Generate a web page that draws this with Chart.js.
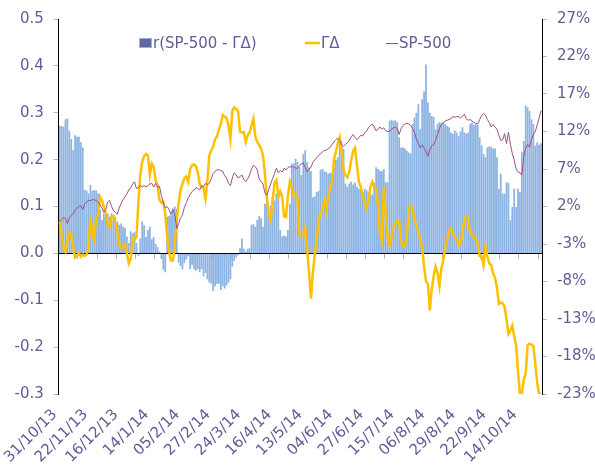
<!DOCTYPE html>
<html>
<head>
<meta charset="utf-8">
<script src="https://cdn.jsdelivr.net/npm/chart.js@4.4.1/dist/chart.umd.min.js"></script>
<style>
  html, body { margin: 0; padding: 0; background: #ffffff; }
</style>
</head>
<body>
<canvas id="corrChart" width="595" height="468"></canvas>
<script>
// r(SP-500 - ΓΔ) rolling correlation (bars, left axis) with the two indices (lines, right axis, %)
var DATE_TICKS = ['31/10/13', '22/11/13', '16/12/13', '14/1/14', '05/2/14', '27/2/14', '24/3/14', '16/4/14',
  '13/5/14', '04/6/14', '27/6/14', '15/7/14', '06/8/14', '29/8/14', '22/9/14', '14/10/14'];
var LABEL_EVERY = 16;
var TICK_EVERY = 10;

var CORR = [
  0.272, 0.272, 0.270, 0.286, 0.288, 0.262, 0.244, 0.220, 0.252, 0.249,
  0.249, 0.237, 0.226, 0.135, 0.134, 0.128, 0.146, 0.133, 0.135, 0.134,
  0.128, 0.093, 0.071, 0.085, 0.078, 0.085, 0.078, 0.085, 0.071, 0.078,
  0.068, 0.061, 0.064, 0.057, 0.054, 0.036, 0.022, 0.047, 0.043, 0.045,
  0.022, -0.005, 0.032, 0.068, 0.060, 0.035, 0.050, 0.057, 0.030, 0.035,
  0.020, 0.013, 0.004, -0.012, -0.035, -0.040, 0.078, 0.080, 0.085, 0.096,
  0.100, 0.095, -0.020, -0.027, -0.034, -0.020, -0.013, -0.006, -0.034, -0.024,
  -0.034, -0.037, -0.034, -0.040, -0.034, -0.049, -0.042, -0.055, -0.062, -0.065,
  -0.080, -0.070, -0.065, -0.065, -0.078, -0.070, -0.075, -0.068, -0.062, -0.055,
  -0.028, -0.016, -0.009, -0.004, 0.011, 0.032, 0.010, 0.004, 0.010, 0.011,
  0.061, 0.062, 0.057, 0.071, 0.080, 0.075, 0.057, 0.106, 0.128, 0.085,
  0.102, 0.120, 0.113, 0.128, 0.135, 0.050, 0.036, 0.038, 0.036, 0.050,
  0.106, 0.191, 0.192, 0.202, 0.195, 0.184, 0.167, 0.212, 0.220, 0.195,
  0.184, 0.175, 0.120, 0.122, 0.131, 0.133, 0.178, 0.180, 0.175, 0.173,
  0.170, 0.172, 0.170, 0.184, 0.200, 0.205, 0.244, 0.240, 0.223, 0.149,
  0.142, 0.149, 0.153, 0.147, 0.151, 0.142, 0.138, 0.135, 0.131, 0.138,
  0.135, 0.131, 0.124, 0.126, 0.150, 0.184, 0.180, 0.177, 0.175, 0.180,
  0.152, 0.152, 0.283, 0.285, 0.283, 0.284, 0.280, 0.248, 0.226, 0.226,
  0.224, 0.219, 0.215, 0.213, 0.276, 0.290, 0.300, 0.318, 0.265, 0.329,
  0.346, 0.403, 0.322, 0.300, 0.293, 0.291, 0.265, 0.276, 0.280, 0.278,
  0.280, 0.276, 0.272, 0.269, 0.258, 0.255, 0.262, 0.258, 0.250, 0.260,
  0.269, 0.258, 0.256, 0.258, 0.276, 0.279, 0.274, 0.276, 0.274, 0.248,
  0.230, 0.212, 0.205, 0.226, 0.228, 0.227, 0.224, 0.224, 0.205, 0.138,
  0.170, 0.128, 0.127, 0.152, 0.150, 0.071, 0.099, 0.138, 0.099, 0.138,
  0.131, 0.216, 0.240, 0.315, 0.312, 0.304, 0.286, 0.276, 0.230, 0.237,
  0.232, 0.235
];

// ΓΔ, % (right axis)
var GD = [
  0.0, -1.8, -3.5, -4.0, -2.5, -1.5, -1.8, -3.5, -4.8, -4.6,
  -4.2, -4.7, -4.4, -4.6, -4.4, -3.5, 0.7, -1.6, -2.4, 0.5,
  0.8, 3.3, 2.8, 2.0, 1.1, -0.4, -0.7, 0.6, 0.7, -0.2,
  -1.1, -3.1, -3.5, -3.4, -3.0, -4.2, -5.6, -5.0, -2.2, -2.4,
  -2.0, 2.5, 6.2, 8.0, 8.7, 9.0, 8.8, 6.2, 7.7, 7.3,
  5.5, 4.8, 2.9, 2.5, 2.6, 1.1, -2.0, -4.0, -5.2, -5.2,
  -3.0, 0.0, 2.5, 4.2, 5.0, 5.8, 6.0, 5.3, 7.0, 7.5,
  7.6, 7.4, 6.6, 5.0, 4.6, 4.4, 3.0, 5.5, 8.8, 9.5,
  10.0, 11.0, 11.3, 12.3, 13.0, 14.2, 14.0, 13.8, 12.8, 11.0,
  14.8, 15.2, 15.0, 14.7, 12.0, 11.9, 11.9, 10.6, 11.5, 11.9,
  12.8, 13.7, 11.3, 10.6, 10.2, 9.7, 8.8, 6.4, 3.2, 1.1,
  0.2, 2.8, 5.1, 5.5, 3.3, 4.0, 3.3, 0.7, 0.6, 3.5,
  5.3, 4.5, 3.4, 3.6, 3.0, -1.8, -2.0, -2.0, -0.9, -3.7,
  -6.8, -10.3, -6.8, -4.4, -2.5, 0.0, 1.2, 1.6, 2.7, 1.5,
  3.5, 4.5, 5.3, 8.2, 9.3, 10.4, 11.2, 9.3, 6.9, 6.2,
  5.9, 6.6, 8.2, 9.4, 9.8, 7.5, 5.3, 4.6, 3.3, 2.5,
  1.8, 2.8, 4.6, 5.3, 4.5, 4.4, 2.0, -1.5, -2.5, 4.5,
  0.8, -2.0, -3.1, -2.2, -0.8, -0.3, 0.1, 0.0, -2.6, -3.3,
  -3.3, -2.0, 1.5, 2.1, 1.6, 0.3, -0.6, -1.5, -2.4, -3.5,
  -6.0, -8.0, -8.3, -11.9, -9.0, -7.3, -6.0, -6.8, -8.6, -6.3,
  -5.2, -3.5, -2.5, -1.2, -0.9, -1.6, -2.0, -2.3, -3.2, -3.0,
  -1.5, 0.3, 0.7, 0.6, -1.5, -1.8, -2.1, -2.4, -2.9, -4.6,
  -4.6, -5.8, -3.4, -4.6, -5.6, -5.8, -6.9, -7.5, -8.8, -11.0,
  -10.8, -10.9, -11.4, -13.0, -15.0, -14.6, -13.9, -15.3, -16.5, -20.0,
  -23.0, -23.0, -21.0, -20.3, -16.5, -16.3, -16.4, -16.6, -19.0, -21.5,
  -23.0, -23.0
];

// SP-500, % (right axis)
var SPX = [
  0.0, 0.3, 0.5, 0.4, -0.3, 0.5, 0.8, 1.1, 1.5, 1.8,
  2.0, 2.1, 1.6, 2.3, 2.6, 2.8, 2.8, 2.9, 2.9, 2.8,
  2.6, 2.2, 1.8, 1.2, 1.6, 2.6, 2.8, 2.0, 1.5, 1.2,
  1.0, 1.8, 2.4, 2.9, 3.3, 3.7, 4.2, 4.5, 5.0, 5.3,
  4.4, 4.5, 4.8, 4.6, 4.8, 4.6, 4.8, 5.0, 5.1, 4.6,
  5.1, 4.6, 4.7, 3.5, 2.5, 1.8, 2.0, 1.6, 1.0, 1.6,
  1.0, -0.9, -0.3, 0.5, 0.9, 1.9, 2.5, 3.2, 3.6, 4.0,
  4.2, 4.5, 4.4, 4.2, 4.8, 4.6, 5.1, 4.9, 5.1, 5.7,
  6.4, 6.7, 6.9, 6.9, 6.8, 6.7, 6.1, 5.8, 5.1, 4.8,
  5.8, 6.5, 6.2, 5.8, 6.0, 6.2, 5.6, 5.3, 5.7, 6.2,
  7.0, 7.5, 7.3, 6.9, 5.7, 5.3, 5.0, 3.8, 3.5, 4.3,
  5.0, 5.7, 6.4, 7.1, 6.5, 6.8, 6.6, 7.1, 6.9, 7.2,
  7.3, 7.3, 7.3, 7.1, 7.1, 7.4, 7.7, 7.8, 7.2, 6.6,
  7.0, 7.2, 7.9, 8.2, 8.5, 8.8, 9.0, 9.3, 9.5, 9.5,
  9.7, 9.9, 10.3, 10.6, 10.9, 11.1, 10.8, 10.2, 10.0, 10.3,
  10.5, 10.8, 11.3, 11.6, 11.2, 10.9, 11.2, 11.5, 11.4, 11.8,
  12.1, 12.5, 12.8, 13.0, 12.6, 12.1, 12.3, 12.6, 12.3, 12.5,
  12.1, 12.0, 12.0, 12.3, 12.5, 12.6, 12.4, 11.6, 12.4, 12.8,
  13.0, 13.1, 13.0, 12.8, 12.4, 11.9, 11.0, 10.4, 9.8, 10.2,
  9.8, 9.3, 8.7, 9.6, 10.1, 10.2, 10.8, 11.6, 12.4, 12.9,
  13.2, 13.4, 13.5, 13.6, 13.7, 14.0, 13.9, 14.0, 14.0, 13.8,
  14.0, 14.3, 13.7, 13.5, 13.6, 13.4, 13.2, 13.1, 13.0, 13.6,
  14.1, 14.4, 14.2, 13.6, 13.2, 12.6, 12.9, 12.6, 12.3, 11.5,
  10.8, 10.9, 11.7, 10.4, 11.9, 10.3, 9.1, 8.2, 7.0, 6.6,
  6.5, 6.2, 8.7, 9.8, 10.3, 9.9, 11.0, 11.6, 12.0, 12.9,
  13.8, 14.8
];

var TEXT = '#5E5E96';
var BAR = '#8DB4E2';
var GOLD = '#FFC000';
var PLUM = '#A0507F';
var TICK = '#B4B4B4';

var labels = CORR.map(function (v, i) {
  return i % LABEL_EVERY === 0 ? (DATE_TICKS[i / LABEL_EVERY] || '') : '';
});

Chart.defaults.font.family = "'DejaVu Sans', sans-serif";
Chart.defaults.font.size = 15;
Chart.defaults.color = TEXT;
Chart.defaults.animation = false;

// legend drawn inside the plot, as in the original
var insideLegend = {
  id: 'insideLegend',
  afterDraw: function (chart) {
    var ctx = chart.ctx;
    var y = 44;
    ctx.save();
    ctx.font = "15px 'DejaVu Sans', sans-serif";
    ctx.textBaseline = 'middle';
    ctx.textAlign = 'left';

    ctx.fillStyle = '#6466A2';
    ctx.fillRect(139, 38, 13, 10);
    ctx.strokeStyle = BAR;
    ctx.lineWidth = 1;
    ctx.strokeRect(139.5, 38.5, 12, 9);
    ctx.fillStyle = TEXT;
    ctx.fillText(chart.data.datasets[0].label, 153, y);

    ctx.strokeStyle = GOLD;
    ctx.lineWidth = 2.5;
    ctx.beginPath(); ctx.moveTo(305, 43); ctx.lineTo(320, 43); ctx.stroke();
    ctx.fillText(chart.data.datasets[1].label, 321, y);

    ctx.strokeStyle = PLUM;
    ctx.lineWidth = 1;
    ctx.beginPath(); ctx.moveTo(386, 43.5); ctx.lineTo(398, 43.5); ctx.stroke();
    ctx.fillText(chart.data.datasets[2].label, 399, y);
    ctx.restore();
  }
};

new Chart(document.getElementById('corrChart'), {
  type: 'bar',
  data: {
    labels: labels,
    datasets: [
      { type: 'bar', label: 'r(SP-500 - ΓΔ)', data: CORR, backgroundColor: BAR,
        barPercentage: 0.93, categoryPercentage: 1, yAxisID: 'y', order: 3 },
      { type: 'line', label: 'ΓΔ', data: GD, borderColor: GOLD, borderWidth: 2.5,
        pointRadius: 0, tension: 0, yAxisID: 'y1', order: 2 },
      { type: 'line', label: 'SP-500', data: SPX, borderColor: PLUM, borderWidth: 1,
        pointRadius: 0, tension: 0, yAxisID: 'y1', order: 1 }
    ]
  },
  options: {
    responsive: false,
    layout: { padding: { top: 16, right: 0, bottom: 0, left: 0 } },
    plugins: { legend: { display: false }, tooltip: { enabled: false } },
    scales: {
      x: {
        type: 'category',
        position: 'bottom',
        offset: true,
        grid: { display: false, drawTicks: false },
        border: { display: false },
        ticks: { autoSkip: false, minRotation: 45, maxRotation: 45, padding: 12, labelOffset: -5, color: TEXT },
        afterFit: function (s) { s.height = 74; }
      },
      x2: {
        type: 'category',
        position: { y: 0 },
        offset: true,
        ticks: { display: false },
        grid: {
          offset: true,
          drawOnChartArea: false,
          tickLength: 5,
          color: function (c) { return c.index % TICK_EVERY === 0 ? TICK : 'rgba(0,0,0,0)'; }
        },
        border: { display: true, color: '#000000', width: 1 }
      },
      y: {
        position: 'left',
        min: -0.3,
        max: 0.5,
        ticks: { stepSize: 0.1, padding: 10, callback: function (v) { return v.toFixed(1); } },
        grid: { drawOnChartArea: false, tickLength: 5, color: TICK },
        border: { color: '#000000', width: 1 },
        afterFit: function (s) { s.width = 58; }
      },
      y1: {
        position: 'right',
        min: -23,
        max: 27,
        ticks: { stepSize: 5, padding: 10, callback: function (v) { return v + '%'; } },
        grid: { drawOnChartArea: false, tickLength: 5, color: TICK },
        border: { color: '#000000', width: 1 },
        afterFit: function (s) { s.width = 53; }
      }
    }
  },
  plugins: [insideLegend]
});
</script>
</body>
</html>
